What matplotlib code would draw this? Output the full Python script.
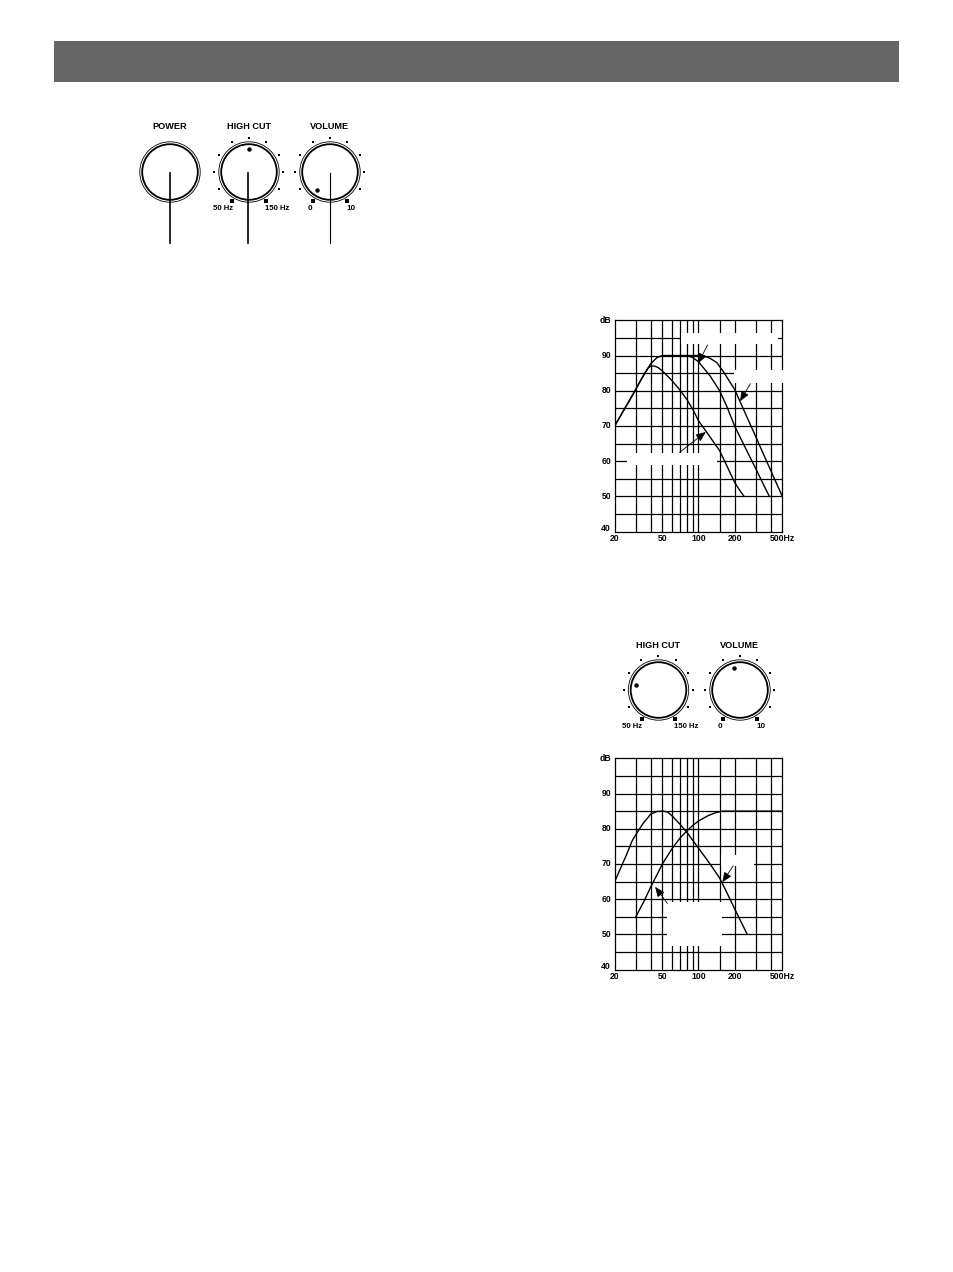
import matplotlib
matplotlib.use('Agg')
import matplotlib.pyplot as plt
from matplotlib.patches import Circle, Rectangle
import numpy as np

plt.rcParams['font.family'] = ['Liberation Sans', 'DejaVu Sans']
plt.rcParams['font.weight'] = 'bold'

W, H = 954, 1272

freq_ticks = [20, 50, 100, 200, 500]
freq_labels = ['20', '50', '100', '200', '500Hz']
freq_grid = [30, 40, 50, 60, 70, 80, 90, 100, 150, 200, 300, 400]
db_ticks = [40, 50, 60, 70, 80, 90, 100]
db_labels = ['40', '50', '60', '70', '80', '90', 'dB']
db_grid = [45, 50, 55, 60, 65, 70, 75, 80, 85, 90, 95]

# first chart
low1_f = [20, 23, 26, 30, 33, 36, 38, 40, 43, 46, 50, 55, 60, 70, 80, 90, 100, 115, 130, 150, 170, 200, 220, 240]
low1_db = [70, 73.6, 76.7, 80.4, 83, 85.2, 86.4, 87, 87, 86.6, 85.6, 84.2, 82.9, 80.2, 77.5, 74.6, 71.5, 68.6, 66, 63, 59.1, 54, 51.8, 50]
mid1_f = [20, 23, 26, 30, 33, 36, 40, 45, 50, 80, 90, 100, 125, 150, 172, 200, 250, 300, 350, 390]
mid1_db = [70, 73.6, 76.7, 80.4, 83, 85.2, 87.7, 89.4, 90, 90, 89.4, 88.2, 84.2, 80, 75.6, 70, 63.3, 57.9, 53.2, 50]
high1_f = [80, 100, 110, 125, 142, 160, 200, 250, 300, 350, 400, 500]
high1_db = [90, 90, 89.9, 89.2, 88, 85.6, 80.4, 73, 67, 61.8, 57.4, 50]

# second chart
low2_f = [20, 25, 28, 30, 33, 35, 38, 40, 45, 50, 55, 60, 70, 80, 90, 100, 120, 135, 150, 175, 200, 230, 255]
low2_db = [65, 72.5, 76.6, 78.3, 80.5, 81.8, 83.2, 84.2, 84.9, 85, 84.8, 83.7, 81.3, 79, 76.6, 74.5, 70.8, 68.3, 66, 61.4, 57.3, 53.1, 50]
high2_f = [30, 35, 40, 45, 50, 60, 70, 80, 90, 100, 120, 140, 160, 500]
high2_db = [55, 59.3, 63.5, 66.9, 70, 74.3, 77.3, 79.4, 81, 82.2, 83.7, 84.6, 85, 85]

arrows1 = [((119, 93), (99.6, 87.8)), ((271, 82), (222, 77)), ((69.5, 62.5), (115, 68.3))]
arrows2 = [((55, 58.8), (43.5, 63.5)), ((195, 69.5), (158, 64.8))]

# blanked label areas, pixels of the page (x0, y0, x1, y1)
blanks1 = [(680.7, 332.5, 778.3, 343.5), (734, 370, 784, 383), (626.7, 452.5, 716.7, 465)]
blanks2 = [(666.7, 901.7, 721.7, 946), (720.7, 855, 754, 866)]

fig = plt.figure(figsize=(W / 100, H / 100), dpi=100)
page = fig.add_axes([0, 0, 1, 1])
page.set_xlim(0, W)
page.set_ylim(H, 0)
page.axis('off')

page.add_patch(Rectangle((54, 41), 845, 41, color='#666666', lw=0))


def knob(cx, cy, pointer=None, pointer_r=23, left=None, right=None, title=None, title_dy=46):
    page.add_patch(Circle((cx, cy), 30.2, fill=False, ec='black', lw=0.6))
    page.add_patch(Circle((cx, cy), 27.8, fill=False, ec='black', lw=1.3))
    page.text(cx, cy - title_dy + 0.5, title, ha='center', va='center', fontsize=6.6)
    if left is None:
        return
    for i, a in enumerate(np.radians(np.arange(-150, 151, 30))):
        if i in (0, 10):
            page.plot(cx + 33.4 * np.sin(a), cy - 33.4 * np.cos(a), 's', ms=2.6, color='black', mew=0)
        else:
            page.plot(cx + 34.5 * np.sin(a), cy - 34.5 * np.cos(a), 's', ms=1.5, color='black', mew=0)
    if left.endswith('Hz'):
        page.text(cx - 16, cy + 37, left, ha='right', va='center', fontsize=5.6)
        page.text(cx + 16, cy + 37, right, ha='left', va='center', fontsize=5.6)
    else:
        page.text(cx - 20, cy + 37, left, ha='center', va='center', fontsize=5.8)
        page.text(cx + 21.5, cy + 37, right, ha='center', va='center', fontsize=5.8)
    a = np.radians(pointer)
    page.plot(cx + pointer_r * np.sin(a), cy - pointer_r * np.cos(a), 'o', ms=3.2, color='black', mew=0)


knob(170, 172, title='POWER')
knob(249, 172, 0, left='50 Hz', right='150 Hz', title='HIGH CUT')
knob(330, 172, -145, 22, left='0', right='10', title='VOLUME')
knob(658.5, 690, -78, 23.5, left='50 Hz', right='150 Hz', title='HIGH CUT', title_dy=45)
knob(740, 690, -15.5, left='0', right='10', title='VOLUME', title_dy=45)

page.plot([170.5, 170.5], [173, 243], color='black', lw=1.2)
page.plot([248.5, 248.5], [173, 243], color='black', lw=1.2)
page.plot([330.5, 330.5], [173, 243], color='black', lw=0.8)


def chart(y_top, curves, arrows, blanks):
    x0, x1 = 614.7, 782.3
    y_bot = y_top + 211.3
    ax = fig.add_axes([x0 / W, 1 - y_bot / H, (x1 - x0) / W, (y_bot - y_top) / H])
    ax.set_zorder(2)
    ax.patch.set_alpha(0)
    ax.set_xscale('log')
    ax.set_xlim(20, 500)
    ax.set_ylim(40, 100)
    ax.minorticks_off()
    ax.set_xticks(freq_ticks)
    ax.set_xticklabels(freq_labels)
    ax.set_yticks([])
    ax.tick_params(length=0, labelsize=6.2, pad=2)
    for f in freq_grid:
        ax.axvline(f, color='black', lw=0.9, zorder=1)
    for d in db_grid:
        ax.axhline(d, color='black', lw=0.9, zorder=1)
    for s in ax.spines.values():
        s.set_linewidth(0.9)
    for d, lab in zip(db_ticks, db_labels):
        y = y_bot - (d - 40) * 35.2 / 10
        if d == 40:
            y -= 3.5  # sits above the bottom line in the original
        page.text(611, y, lab, ha='right', va='center', fontsize=6.2)
    for b in blanks:
        ax.add_patch(Rectangle((b[0], b[1]), b[2] - b[0], b[3] - b[1], transform=page.transData,
                               color='white', lw=0, zorder=2.6, clip_on=False))
    for f, d in curves:
        ax.plot(f, d, color='black', lw=1.0, zorder=3)
    for tail, tip in arrows:
        ax.annotate('', xy=tip, xytext=tail, zorder=4,
                    arrowprops=dict(arrowstyle='-|>,head_length=0.6,head_width=0.25', color='black',
                                    lw=0.6, mutation_scale=10, shrinkA=0, shrinkB=0))
    return ax


chart(320.3, [(low1_f, low1_db), (mid1_f, mid1_db), (high1_f, high1_db)], arrows1, blanks1)
chart(758.3, [(low2_f, low2_db), (high2_f, high2_db)], arrows2, blanks2)

fig.savefig('out.png', dpi=100)
